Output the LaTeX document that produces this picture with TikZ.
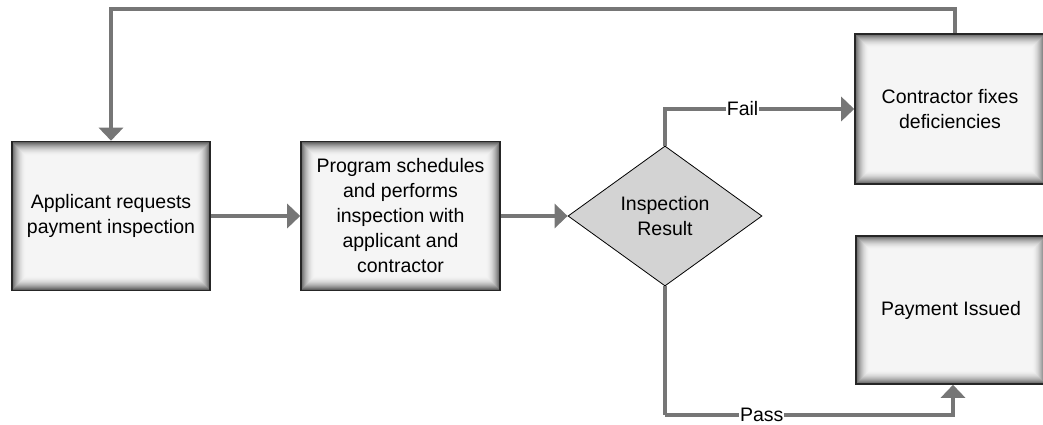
\documentclass[tikz,border=0pt]{standalone}
\usepackage{fontspec}
\setmainfont{Liberation Sans}
\usetikzlibrary{arrows.meta,shapes.geometric}
\definecolor{conn}{RGB}{118,118,118}
\definecolor{dia}{RGB}{211,211,211}
\definecolor{boxfill}{RGB}{245,245,245}
\tikzset{
  txt/.style={font=\fontsize{19.5}{25}\selectfont, align=center, text=black},
  box/.style={txt, draw=black!85, line width=1.6pt, fill=boxfill, inner sep=0pt,
    path picture={
      \foreach \i in {0,...,13}{
        \pgfmathsetmacro\op{0.6*(1-\i/14)^2}
        \pgfmathsetmacro\d{0.8+\i*1.0}
        \draw[black, draw opacity=\op, line width=1.1pt]
          ([shift={(\d pt,-\d pt)}]path picture bounding box.north west) rectangle
          ([shift={(-\d pt,\d pt)}]path picture bounding box.south east);
      }
    }},
  decision/.style={txt, diamond, draw=black, line width=0.8pt, fill=dia, inner sep=0pt,
    minimum width=194pt, minimum height=140pt, aspect=1.386},
  conn line/.style={draw=conn, line width=4pt, -{Triangle[length=13pt,width=24pt]}},
  conn plain/.style={draw=conn, line width=4pt},
  lbl/.style={txt, fill=white, inner sep=1pt}
}
\begin{document}
\begin{tikzpicture}[x=1pt,y=-1pt]
\useasboundingbox (0,0) rectangle (1043,425);
\node[box, minimum width=198pt, minimum height=149pt] (b1) at (111,216) {Applicant requests\\payment inspection};
\node[box, minimum width=199pt, minimum height=149pt] (b2) at (400.5,216) {Program schedules\\and performs\\inspection with\\applicant and\\contractor};
\node[decision] (d) at (665,216) {Inspection\\Result};
\node[box, minimum width=190pt, minimum height=150pt] (b3) at (950,109) {Contractor fixes\\deficiencies};
\node[box, minimum width=190pt, minimum height=148pt] (b4) at (951,310) {Payment Issued};
\coordinate (top) at (112,9.5);
\coordinate (pc) at (665,415);
\draw[conn line] (b1.east) -- (b2.west);
\draw[conn line] (b2.east) -- (d.west);
\draw[conn line] (d.north) |- node[lbl, pos=0.705] {Fail} (b3.west);
\draw[conn plain] (d.south) -- (pc);
\draw[conn line] (pc) -| node[lbl, pos=0.168] {Pass} ([xshift=2pt]b4.south);
\draw[conn line] ([xshift=5pt]b3.north) |- (b1.north |- top) -- (b1.north);
\end{tikzpicture}
\end{document}
